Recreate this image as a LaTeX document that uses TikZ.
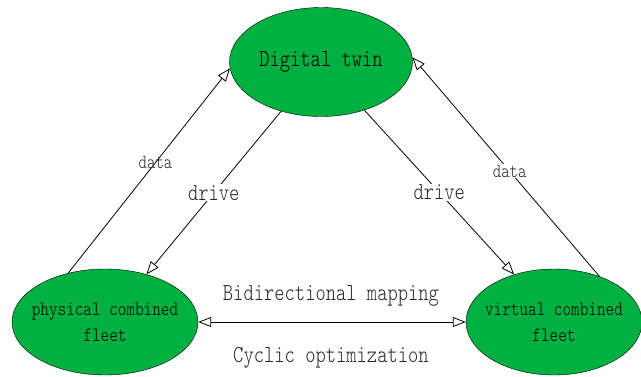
\documentclass[tikz,border=0pt]{standalone}
\usepackage{fontspec}
\setmonofont[FakeStretch=0.8]{Latin Modern Mono Light}
\usetikzlibrary{arrows.meta,shapes.geometric}
\definecolor{fleetgreen}{RGB}{0,176,64}
\begin{document}
\begin{tikzpicture}[x=1pt,y=-1pt,
  blob/.style={ellipse,draw=black,fill=fleetgreen,inner ysep=0pt,inner xsep=-10pt,align=center,font=\ttfamily},
  tri/.style={-{Triangle[open,length=13pt,width=10pt,fill=white]}},
  bitri/.style={{Triangle[open,length=13pt,width=10pt,fill=white]}-{Triangle[open,length=13pt,width=10pt,fill=white]}},
  conn/.style={draw=black,line width=0.8pt},
  biglab/.style={font=\ttfamily\fontsize{24.5}{26}\selectfont,text=black!85},
  smalllab/.style={font=\ttfamily\fontsize{20}{22}\selectfont,text=black!85}]
\useasboundingbox (0,0) rectangle (641,376);
\node[blob,minimum width=183pt,minimum height=109pt,font=\ttfamily\fontsize{24.5}{26}\selectfont] (dt) at (321,62) {Digital twin};
\node[blob,minimum width=186pt,minimum height=106pt,font=\ttfamily\fontsize{20.5}{26}\selectfont] (phys) at (105,322) {physical combined\\fleet};
\node[blob,minimum width=176pt,minimum height=106pt,font=\ttfamily\fontsize{20.5}{26}\selectfont] (virt) at (554,322) {virtual combined\\fleet};
\draw[conn,tri] (phys.127) -- node[pos=0.54,smalllab] (l1) {data} (dt.184);
\draw[conn,tri] (dt.231) -- node[pos=0.5,biglab,fill=white,inner sep=1pt] (l2) {drive} (phys.49);
\draw[conn,tri] (dt.312) -- node[pos=0.5,biglab,fill=white,inner sep=1pt] (l3) {drive} (virt.130);
\draw[conn,tri] (virt.45) -- node[pos=0.48,smalllab,fill=white,inner sep=1pt] (l4) {data} (dt.3);
\draw[conn,bitri] (phys.east) -- (virt.west);
\node[biglab] (bm) at (331,296) {Bidirectional mapping};
\node[biglab] (co) at (331,358) {Cyclic optimization};
\end{tikzpicture}
\end{document}
